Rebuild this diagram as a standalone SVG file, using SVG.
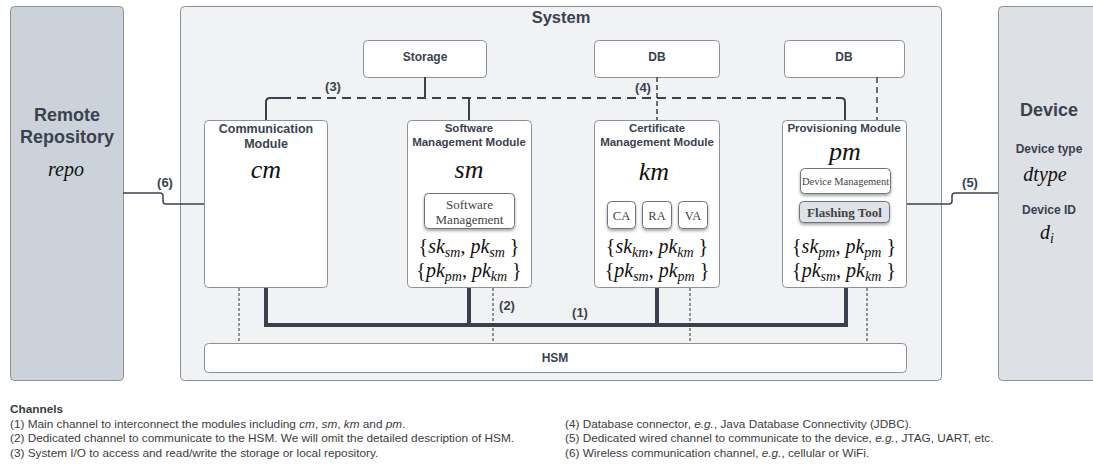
<svg xmlns="http://www.w3.org/2000/svg" width="1093" height="464" viewBox="0 0 1093 464">
<style>
.outer{stroke:#8c9099;stroke-width:1}
.box{fill:#fff;stroke:#8c9099;stroke-width:1}
.sans{font-family:"Liberation Sans",Arial,sans-serif;fill:#3a4250}
.bold{font-weight:bold}
.math{font-family:"Liberation Serif","Times New Roman",serif;fill:#111;text-anchor:middle}
.it{font-style:italic}
.inner{fill:#fff;stroke:#6e737b;stroke-width:1;filter:url(#sh)}
.serif{font-family:"Liberation Serif","Times New Roman",serif;fill:#444;text-anchor:middle}
.lbl{font-family:"Liberation Sans",Arial,sans-serif;font-weight:bold;font-size:13px;fill:#3a4250;text-anchor:middle}
.leg{font-family:"Liberation Sans",Arial,sans-serif;font-size:11.8px;fill:#3c3c3c}
</style>
<defs>
<filter id="sh" x="-20%" y="-20%" width="140%" height="160%">
<feDropShadow dx="0" dy="2" stdDeviation="1.5" flood-color="#000" flood-opacity="0.35"/>
</filter>
</defs>
<rect width="1093" height="464" fill="#fff"/>

<g id="remote">
<rect class="outer" x="10.5" y="6.5" width="113" height="374" rx="4" fill="#cbd2da"/>
<text class="sans bold" x="67" y="121" font-size="18" text-anchor="middle">Remote</text>
<text class="sans bold" x="67" y="143" font-size="18" text-anchor="middle">Repository</text>
<text class="math it" x="66" y="176" font-size="20">repo</text>
</g>

<g id="system">
<rect class="outer" x="180.5" y="6.5" width="761" height="374" rx="4" fill="#f1f2f4"/>
<text class="sans bold" x="561" y="23" font-size="16.5" text-anchor="middle">System</text>
</g>

<g id="device">
<rect class="outer" x="998.5" y="6.5" width="100" height="374" rx="4" fill="#dde0e5"/>
<text class="sans bold" x="1049" y="116" font-size="18" text-anchor="middle">Device</text>
<text class="sans bold" x="1049" y="153" font-size="12" text-anchor="middle">Device type</text>
<text class="math it" x="1045" y="181" font-size="20">dtype</text>
<text class="sans bold" x="1049" y="214" font-size="12" text-anchor="middle">Device ID</text>
<text class="math it" x="1047" y="239" font-size="20">d<tspan font-size="14" dy="4">i</tspan></text>
</g>

<g id="storage">
<rect class="box" x="363.5" y="40.5" width="123" height="37" rx="4"/>
<text class="sans bold" x="425" y="61" font-size="12" text-anchor="middle">Storage</text>
</g>
<g id="db1">
<rect class="box" x="594.5" y="40.5" width="125" height="37" rx="4"/>
<text class="sans bold" x="657" y="61" font-size="12" text-anchor="middle">DB</text>
</g>
<g id="db2">
<rect class="box" x="784.5" y="40.5" width="120" height="37" rx="4"/>
<text class="sans bold" x="844" y="61" font-size="12" text-anchor="middle">DB</text>
</g>

<g id="hsm">
<rect class="box" x="204.5" y="343.5" width="702" height="29" rx="4"/>
<text class="sans bold" x="555" y="362" font-size="12" text-anchor="middle">HSM</text>
</g>

<g id="connectors" fill="none">
<path d="M266,120 V102 Q266,98 270,98 H282" stroke="#3a414d" stroke-width="2"/>
<path d="M282,98 H836" stroke="#3a414d" stroke-width="2" stroke-dasharray="9 6"/>
<path d="M836,98 H841 Q845,98 845,102 V120" stroke="#3a414d" stroke-width="2"/>
<path d="M425,77 V98" stroke="#3a414d" stroke-width="2"/>
<path d="M469,98 V120" stroke="#3a414d" stroke-width="2"/>
<path d="M657,77 V120" stroke="#3a414d" stroke-width="1.5" stroke-dasharray="5 3"/>
<path d="M877,77 V120" stroke="#3a414d" stroke-width="1.5" stroke-dasharray="6 4"/>
<path d="M266,288 V325 H846 V288" stroke="#3a414d" stroke-width="4"/>
<path d="M469,288 V325 M657,288 V325" stroke="#3a414d" stroke-width="4"/>
<path d="M239,288 V343 M493,288 V343 M690,288 V343 M867,288 V343" stroke="#333" stroke-width="1" stroke-dasharray="3 2"/>
<path d="M123,193 H160 Q163,193 163,196 V201 Q163,204 166,204 H204" stroke="#3a414d" stroke-width="1.5"/>
<path d="M907,204 H949 Q952,204 952,201 V196 Q952,193 955,193 H998" stroke="#3a414d" stroke-width="1.5"/>
<text class="lbl" x="333" y="91">(3)</text>
<text class="lbl" x="643" y="92">(4)</text>
<text class="lbl" x="580" y="317">(1)</text>
<text class="lbl" x="507" y="310">(2)</text>
<text class="lbl" x="165" y="187">(6)</text>
<text class="lbl" x="970" y="187">(5)</text>
</g>

<g id="cm">
<rect class="box" x="204.5" y="120.5" width="123" height="167" rx="4"/>
<text class="sans bold" x="266" y="133" font-size="12.5" text-anchor="middle">Communication</text>
<text class="sans bold" x="266" y="148" font-size="12.5" text-anchor="middle">Module</text>
<text class="math it" x="266" y="178" font-size="26">cm</text>
</g>

<g id="sm">
<rect class="box" x="407.5" y="120.5" width="124" height="167" rx="4"/>
<text class="sans bold" x="469" y="132" font-size="11.5" text-anchor="middle">Software</text>
<text class="sans bold" x="469" y="146" font-size="11.5" text-anchor="middle">Management Module</text>
<text class="math it" x="469" y="178" font-size="26">sm</text>
<rect class="inner" x="424.5" y="193.5" width="90" height="35" rx="4"/>
<text class="serif" x="469.5" y="209" font-size="13">Software</text>
<text class="serif" x="469.5" y="224" font-size="13">Management</text>
<text class="math" x="469" y="253" font-size="20">{<tspan class="it">sk</tspan><tspan class="it" font-size="14" dy="4">sm</tspan><tspan dy="-4">, </tspan><tspan class="it">pk</tspan><tspan class="it" font-size="14" dy="4">sm</tspan><tspan dy="-4"> }</tspan></text>
<text class="math" x="469" y="277" font-size="20">{<tspan class="it">pk</tspan><tspan class="it" font-size="14" dy="4">pm</tspan><tspan dy="-4">, </tspan><tspan class="it">pk</tspan><tspan class="it" font-size="14" dy="4">km</tspan><tspan dy="-4"> }</tspan></text>
</g>

<g id="km">
<rect class="box" x="594.5" y="120.5" width="125" height="167" rx="4"/>
<text class="sans bold" x="657" y="132" font-size="11.5" text-anchor="middle">Certificate</text>
<text class="sans bold" x="657" y="146" font-size="11.5" text-anchor="middle">Management Module</text>
<text class="math it" x="654" y="180" font-size="26">km</text>
<rect class="inner" x="607.5" y="201.5" width="28" height="27" rx="4"/>
<rect class="inner" x="642.5" y="201.5" width="29" height="27" rx="4"/>
<rect class="inner" x="678.5" y="201.5" width="29" height="27" rx="4"/>
<text class="serif" x="621.5" y="220" font-size="12.5">CA</text>
<text class="serif" x="657" y="220" font-size="12.5">RA</text>
<text class="serif" x="693" y="220" font-size="12.5">VA</text>
<text class="math" x="657" y="253" font-size="20">{<tspan class="it">sk</tspan><tspan class="it" font-size="14" dy="4">km</tspan><tspan dy="-4">, </tspan><tspan class="it">pk</tspan><tspan class="it" font-size="14" dy="4">km</tspan><tspan dy="-4"> }</tspan></text>
<text class="math" x="657" y="277" font-size="20">{<tspan class="it">pk</tspan><tspan class="it" font-size="14" dy="4">sm</tspan><tspan dy="-4">, </tspan><tspan class="it">pk</tspan><tspan class="it" font-size="14" dy="4">pm</tspan><tspan dy="-4"> }</tspan></text>
</g>

<g id="pm">
<rect class="box" x="782.5" y="120.5" width="124" height="167" rx="4"/>
<text class="sans bold" x="844" y="132" font-size="11.5" text-anchor="middle">Provisioning Module</text>
<text class="math it" x="845" y="160" font-size="26">pm</text>
<rect class="inner" x="800.5" y="168.5" width="90" height="25" rx="4"/>
<text class="serif" x="845.5" y="185" font-size="10.5">Device Management</text>
<rect class="inner" x="799.5" y="201.5" width="90" height="21" rx="4" style="fill:#dfe2e7"/>
<text class="serif" x="844.5" y="216.5" font-size="13" font-weight="bold">Flashing Tool</text>
<text class="math" x="844" y="253" font-size="20">{<tspan class="it">sk</tspan><tspan class="it" font-size="14" dy="4">pm</tspan><tspan dy="-4">, </tspan><tspan class="it">pk</tspan><tspan class="it" font-size="14" dy="4">pm</tspan><tspan dy="-4"> }</tspan></text>
<text class="math" x="844" y="277" font-size="20">{<tspan class="it">pk</tspan><tspan class="it" font-size="14" dy="4">sm</tspan><tspan dy="-4">, </tspan><tspan class="it">pk</tspan><tspan class="it" font-size="14" dy="4">km</tspan><tspan dy="-4"> }</tspan></text>
</g>

<g id="legend">
<text class="leg" x="10" y="413" font-weight="bold">Channels</text>
<text class="leg" x="10" y="428">(1) Main channel to interconnect the modules including <tspan font-style="italic">cm</tspan>, <tspan font-style="italic">sm</tspan>, <tspan font-style="italic">km</tspan> and <tspan font-style="italic">pm</tspan>.</text>
<text class="leg" x="10" y="442">(2) Dedicated channel to communicate to the HSM. We will omit the detailed description of HSM.</text>
<text class="leg" x="10" y="457">(3) System I/O to access and read/write the storage or local repository.</text>
<text class="leg" x="565" y="428">(4) Database connector, <tspan font-style="italic">e.g.</tspan>, Java Database Connectivity (JDBC).</text>
<text class="leg" x="565" y="442">(5) Dedicated wired channel to communicate to the device, <tspan font-style="italic">e.g.</tspan>, JTAG, UART, etc.</text>
<text class="leg" x="565" y="457">(6) Wireless communication channel, <tspan font-style="italic">e.g.</tspan>, cellular or WiFi.</text>
</g>
</svg>
